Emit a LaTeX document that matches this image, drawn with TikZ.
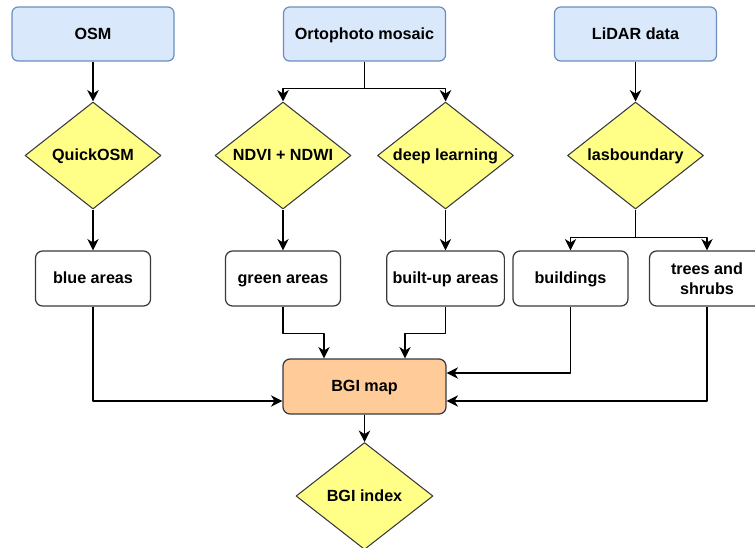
\documentclass[tikz,border=0pt]{standalone}
\usepackage{fontspec}
\setmainfont{Liberation Sans}
\usetikzlibrary{shapes.geometric,arrows.meta}
\definecolor{inblue}{HTML}{DAE8FC}
\definecolor{inedge}{HTML}{6C8EBF}
\definecolor{procyellow}{HTML}{FFFF88}
\definecolor{maporange}{HTML}{FFCC99}
\definecolor{darkedge}{HTML}{36393D}
\begin{document}
\begin{tikzpicture}[x=0.2mm, y=-0.2mm, font=\fontsize{9.2}{11.4}\selectfont\bfseries, line join=round, >={Stealth[length=6.5pt,width=6.5pt,inset=2pt]},
	inbox/.style={draw=inedge, fill=inblue, rounded corners=3.5pt, line width=0.7pt, minimum width=3.24cm, minimum height=1.08cm, text height=1.6ex, text depth=.45ex},
	proc/.style={diamond, aspect=1.27, draw=darkedge, fill=procyellow, line width=0.6pt, inner sep=0pt, minimum width=2.72cm, minimum height=2.14cm, text height=1.6ex, text depth=.45ex},
	res/.style={draw=darkedge, fill=white, rounded corners=4pt, line width=0.7pt, minimum width=2.3cm, minimum height=1.1cm, align=center, text height=1.6ex, text depth=.45ex},
	link/.style={->, line width=0.7pt}]
		\useasboundingbox (0,0) rectangle (755,547);
		% inputs
		\node[inbox] (osm) at (93,34) {OSM};
		\node[inbox] (orto) at (364.5,34) {Ortophoto mosaic};
		\node[inbox] (lidar) at (635.5,34) {LiDAR data};
		% processing
		\node[proc] (quick) at (93,155.5) {QuickOSM};
		\node[proc] (ndvi) at (283,155.5) {NDVI + NDWI};
		\node[proc] (deep) at (445.5,155.5) {deep learning};
		\node[proc] (las) at (635.5,155.5) {lasboundary};
		% layers
		\node[res] (blue) at (93,278.5) {blue areas};
		\node[res] (green) at (283,278.5) {green areas};
		\node[res] (built) at (445.5,278.5) {built-up areas};
		\node[res] (bld) at (570.5,278.5) {buildings};
		\node[res, text height=, text depth=] (trees) at (707,278.5) {trees and\\shrubs};
		\node[res, fill=maporange, minimum width=3.26cm] (map) at (364.5,386.5) {BGI map};
		\node[proc, minimum width=2.74cm] (idx) at (364.5,496) {BGI index};
		\draw[link] (osm) -- (quick);
		\draw[link] (orto.south) -- ++(0,27) -| (ndvi.north);
		\draw[link] (orto.south) -- ++(0,27) -| (deep.north);
		\draw[link] (lidar) -- (las);
		\draw[link] (las.south) -- ++(0,28) -| (bld.north);
		\draw[link] (las.south) -- ++(0,28) -| (trees.north);
		\draw[link] (quick) -- (blue);
		\draw[link] (ndvi) -- (green);
		\draw[link] (deep) -- (built);
		\draw[link] (green.south) -- ++(0,27) -| ([xshift=-0.81cm]map.north);
		\draw[link] (built.south) -- ++(0,27) -| ([xshift=0.81cm]map.north);
		\draw[link] (blue.south) |- ([yshift=-0.29cm]map.west);
		\draw[link] (bld.south) |- ([yshift=0.27cm]map.east);
		\draw[link] (trees.south) |- ([yshift=-0.29cm]map.east);
		\draw[link] (map) -- (idx);
\end{tikzpicture}
\end{document}
